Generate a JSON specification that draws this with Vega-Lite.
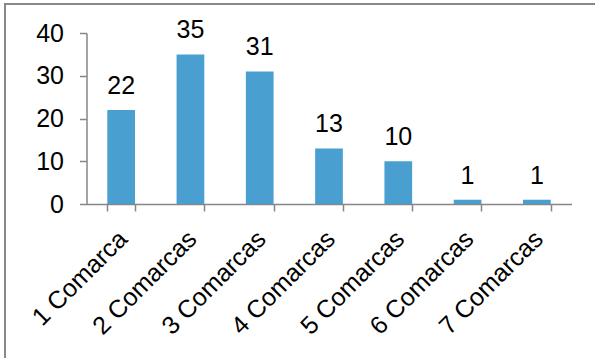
{
  "$schema": "https://vega.github.io/schema/vega-lite/v6.json",
  "autosize": {"type": "none"},
  "padding": {"left": 5, "top": 4, "right": -10, "bottom": -6},
  "width": 600,
  "height": 360,
  "background": "white",
  "config": {
    "view": {"stroke": "#888888", "strokeWidth": 2},
    "font": "Liberation Sans",
    "axis": {
      "domainColor": "#868686",
      "domainWidth": 1.5,
      "tickColor": "#868686",
      "tickWidth": 1.5,
      "tickSize": 7,
      "labelFont": "Liberation Sans",
      "labelFontSize": 25,
      "labelColor": "#000000",
      "grid": false,
      "title": null
    }
  },
  "data": {
    "values": [
      {"categoria": "1 Comarca", "valor": 22},
      {"categoria": "2 Comarcas", "valor": 35},
      {"categoria": "3 Comarcas", "valor": 31},
      {"categoria": "4 Comarcas", "valor": 13},
      {"categoria": "5 Comarcas", "valor": 10},
      {"categoria": "6 Comarcas", "valor": 1},
      {"categoria": "7 Comarcas", "valor": 1}
    ]
  },
  "encoding": {
    "x": {
      "field": "categoria",
      "type": "nominal",
      "sort": null,
      "scale": {"range": [81.5, 566.5], "paddingInner": 0.6, "paddingOuter": 0.3},
      "axis": {
        "offset": -160,
        "labelAngle": -45,
        "tickBand": "extent",
        "labelPadding": 15,
        "labelOffset": -7
      }
    },
    "y": {
      "field": "valor",
      "type": "quantitative",
      "scale": {"domain": [0, 40], "range": [200, 29], "nice": false},
      "axis": {
        "offset": -81.5,
        "values": [0, 10, 20, 30, 40],
        "labelPadding": 16
      }
    }
  },
  "layer": [
    {"mark": {"type": "bar", "color": "#4A9FD1"}},
    {
      "mark": {"type": "text", "baseline": "alphabetic", "dy": -16, "fontSize": 25, "font": "Liberation Sans", "color": "#000000"},
      "encoding": {"text": {"field": "valor", "type": "quantitative"}}
    }
  ]
}
